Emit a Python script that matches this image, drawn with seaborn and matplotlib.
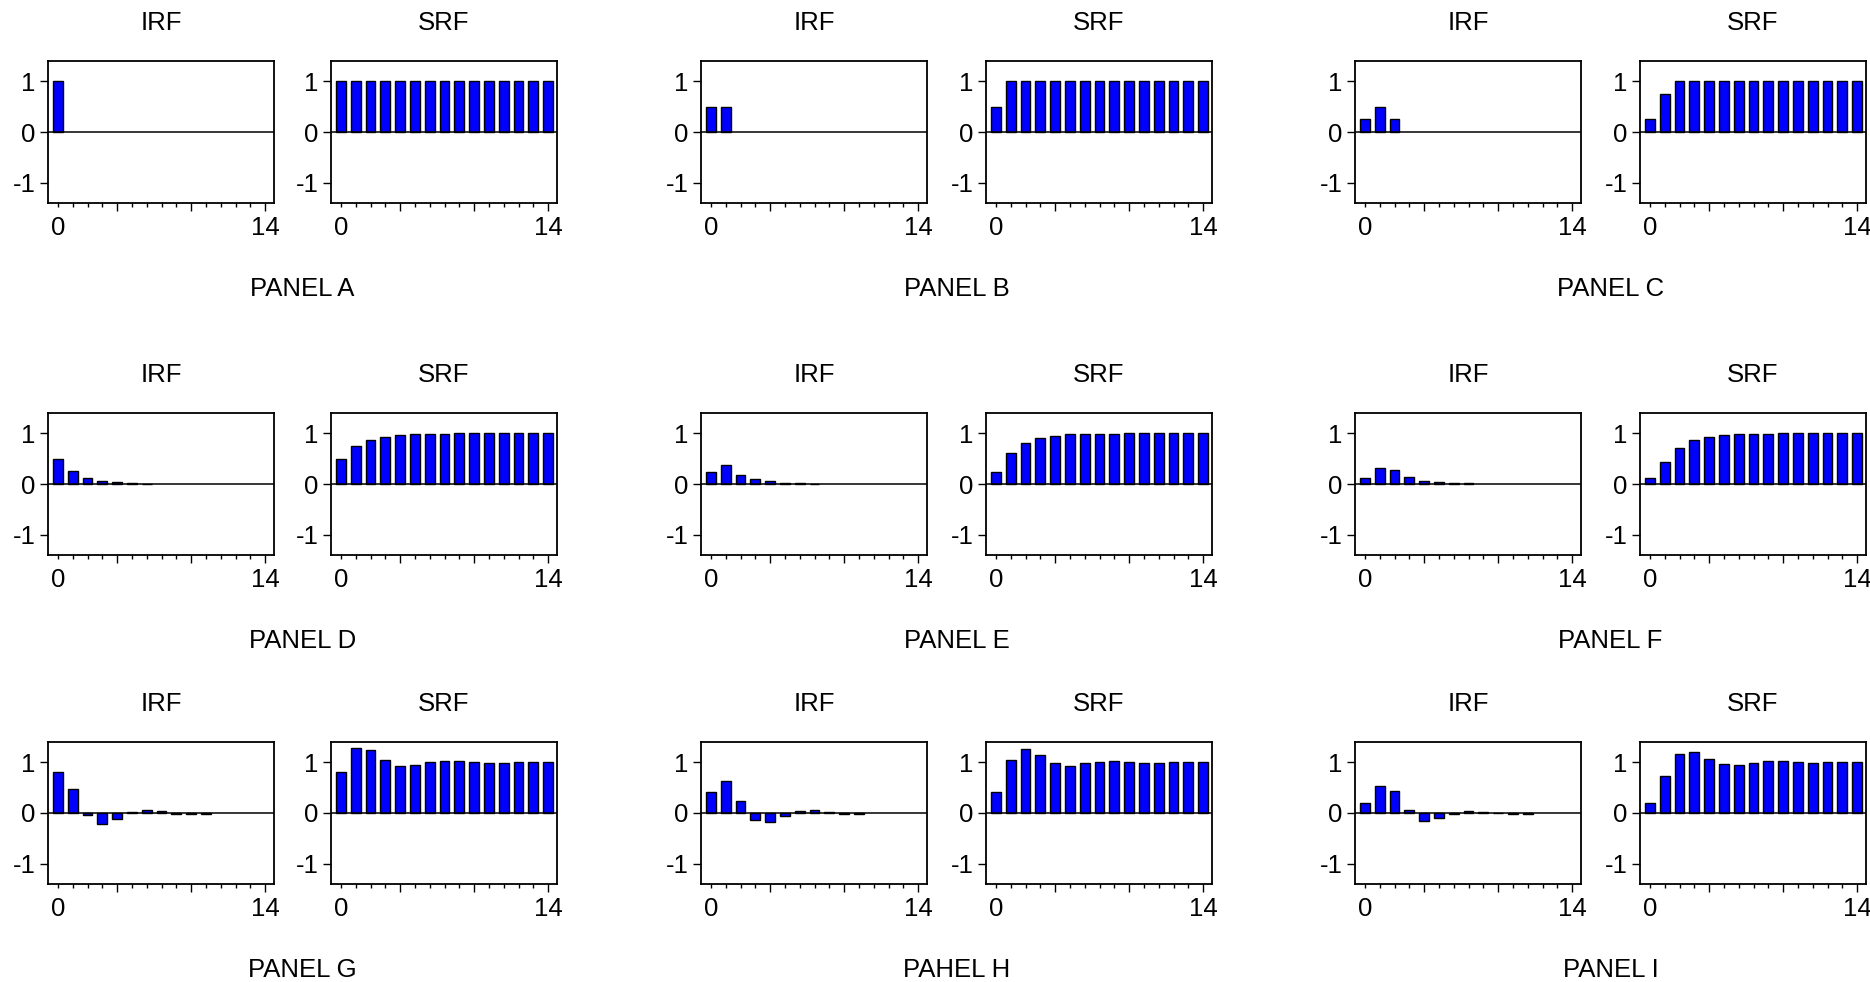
import numpy as np
import pandas as pd
import matplotlib
matplotlib.use("Agg")
import matplotlib.pyplot as plt
import seaborn as sns

# horizon 0..14
lags = list(range(15))

# impulse responses (only non-zero leading part) and step responses
irf_a = [1.0]
srf_a = [1.0, 1.0, 1.0, 1.0, 1.0, 1.0, 1.0, 1.0, 1.0, 1.0, 1.0, 1.0, 1.0, 1.0, 1.0]
irf_b = [0.5, 0.5]
srf_b = [0.5, 1.0, 1.0, 1.0, 1.0, 1.0, 1.0, 1.0, 1.0, 1.0, 1.0, 1.0, 1.0, 1.0, 1.0]
irf_c = [0.25, 0.5, 0.25]
srf_c = [0.25, 0.75, 1.0, 1.0, 1.0, 1.0, 1.0, 1.0, 1.0, 1.0, 1.0, 1.0, 1.0, 1.0, 1.0]
irf_d = [0.5, 0.25, 0.125, 0.063, 0.031, 0.016, 0.008]
srf_d = [0.5, 0.75, 0.87, 0.93, 0.97, 0.98, 0.99, 0.995, 0.998, 1.0, 1.0, 1.0, 1.0, 1.0, 1.0]
irf_e = [0.24, 0.38, 0.18, 0.09, 0.05, 0.02, 0.01, 0.006]
srf_e = [0.24, 0.62, 0.81, 0.9, 0.95, 0.98, 0.99, 0.99, 0.995, 1.0, 1.0, 1.0, 1.0, 1.0, 1.0]
irf_f = [0.12, 0.31, 0.28, 0.14, 0.06, 0.03, 0.02, 0.01]
srf_f = [0.12, 0.43, 0.71, 0.86, 0.92, 0.96, 0.98, 0.99, 0.99, 1.0, 1.0, 1.0, 1.0, 1.0, 1.0]
irf_g = [0.8, 0.48, -0.04, -0.22, -0.12, 0.02, 0.06, 0.03, -0.02, -0.02, -0.02]
srf_g = [0.8, 1.29, 1.25, 1.04, 0.93, 0.94, 1.0, 1.03, 1.02, 1.0, 0.99, 0.99, 1.0, 1.0, 1.0]
irf_h = [0.41, 0.64, 0.23, -0.13, -0.17, -0.05, 0.04, 0.05, 0.02, -0.01, -0.01]
srf_h = [0.41, 1.04, 1.27, 1.15, 0.99, 0.93, 0.98, 1.0, 1.02, 1.0, 0.99, 0.99, 1.0, 1.0, 1.0]
irf_i = [0.2, 0.53, 0.44, 0.06, -0.15, -0.1, -0.02, 0.04, 0.02, 0.0, -0.01, -0.01]
srf_i = [0.2, 0.73, 1.16, 1.21, 1.06, 0.97, 0.95, 0.99, 1.02, 1.02, 1.0, 0.99, 1.0, 1.0, 1.0]

panel_names = ["PANEL A", "PANEL B", "PANEL C",
               "PANEL D", "PANEL E", "PANEL F",
               "PANEL G", "PAHEL H", "PANEL I"]
irfs = [irf_a, irf_b, irf_c, irf_d, irf_e, irf_f, irf_g, irf_h, irf_i]
srfs = [srf_a, srf_b, srf_c, srf_d, srf_e, srf_f, srf_g, srf_h, srf_i]

sns.set_theme(style="white")
plt.rcParams['font.family'] = ['Liberation Sans', 'DejaVu Sans']
plt.rcParams['axes.unicode_minus'] = False
plt.rcParams['text.color'] = 'black'
plt.rcParams['xtick.color'] = 'black'
plt.rcParams['ytick.color'] = 'black'

W, H = 1870, 982
fig = plt.figure(figsize=(W / 100, H / 100), dpi=100)
fig.patch.set_facecolor('white')

FS = 18.5
col_left = [48, 331, 701, 986, 1355, 1640]   # pixel left edges of the six axes columns
row_top = [61, 413, 742]                     # pixel top edges of the three rows
ax_w, ax_h = 226, 142


def draw_bars(ax, vals):
    df = pd.DataFrame({'lag': lags[:len(vals)], 'value': vals})
    sns.barplot(data=df, x='lag', y='value', order=lags, color='#0000FF', saturation=1,
                width=0.67, edgecolor='black', linewidth=1, errorbar=None, ax=ax)
    ax.axhline(0, color='black', lw=1.1, zorder=3)
    ax.set_xlim(-0.67, 14.6)
    ax.set_ylim(-1.4, 1.4)
    ax.set_xlabel('')
    ax.set_ylabel('')
    ax.set_yticks([-1, 0, 1])
    ax.set_yticklabels(['-1', '0', '1'], fontsize=FS)
    ax.set_xticks([0, 4, 9, 14])
    ax.set_xticklabels(['0', '', '', '14'], fontsize=FS)
    ax.set_xticks([t for t in lags if t not in (0, 4, 9, 14)], minor=True)
    ax.tick_params(axis='y', which='major', length=6, width=1, pad=3, left=True, colors='black')
    ax.tick_params(axis='x', which='major', length=5.5, width=1, pad=4, bottom=True, colors='black')
    ax.tick_params(axis='x', which='minor', length=3, width=1, bottom=True, colors='black')
    ax.xaxis.get_major_ticks()[0].tick1line.set_markersize(3)
    for s in ax.spines.values():
        s.set_color('black')
        s.set_linewidth(1.3)


for p in range(9):
    r, c = divmod(p, 3)
    top = row_top[r]
    for k, (vals, title) in enumerate([(irfs[p], 'IRF'), (srfs[p], 'SRF')]):
        left = col_left[2 * c + k]
        ax = fig.add_axes([left / W, 1 - (top + ax_h) / H, ax_w / W, ax_h / H])
        ax.set_facecolor('white')
        draw_bars(ax, vals)
        fig.text((left + ax_w / 2) / W, 1 - (top - 38) / H, title,
                 ha='center', va='center', fontsize=FS, color='black')
    cx = (col_left[2 * c] + col_left[2 * c + 1] + ax_w) / 2
    fig.text(cx / W, 1 - (top + ax_h + 86) / H, panel_names[p],
             ha='center', va='center', fontsize=FS, color='black')

fig.savefig('out.png', dpi=100, facecolor='white')
